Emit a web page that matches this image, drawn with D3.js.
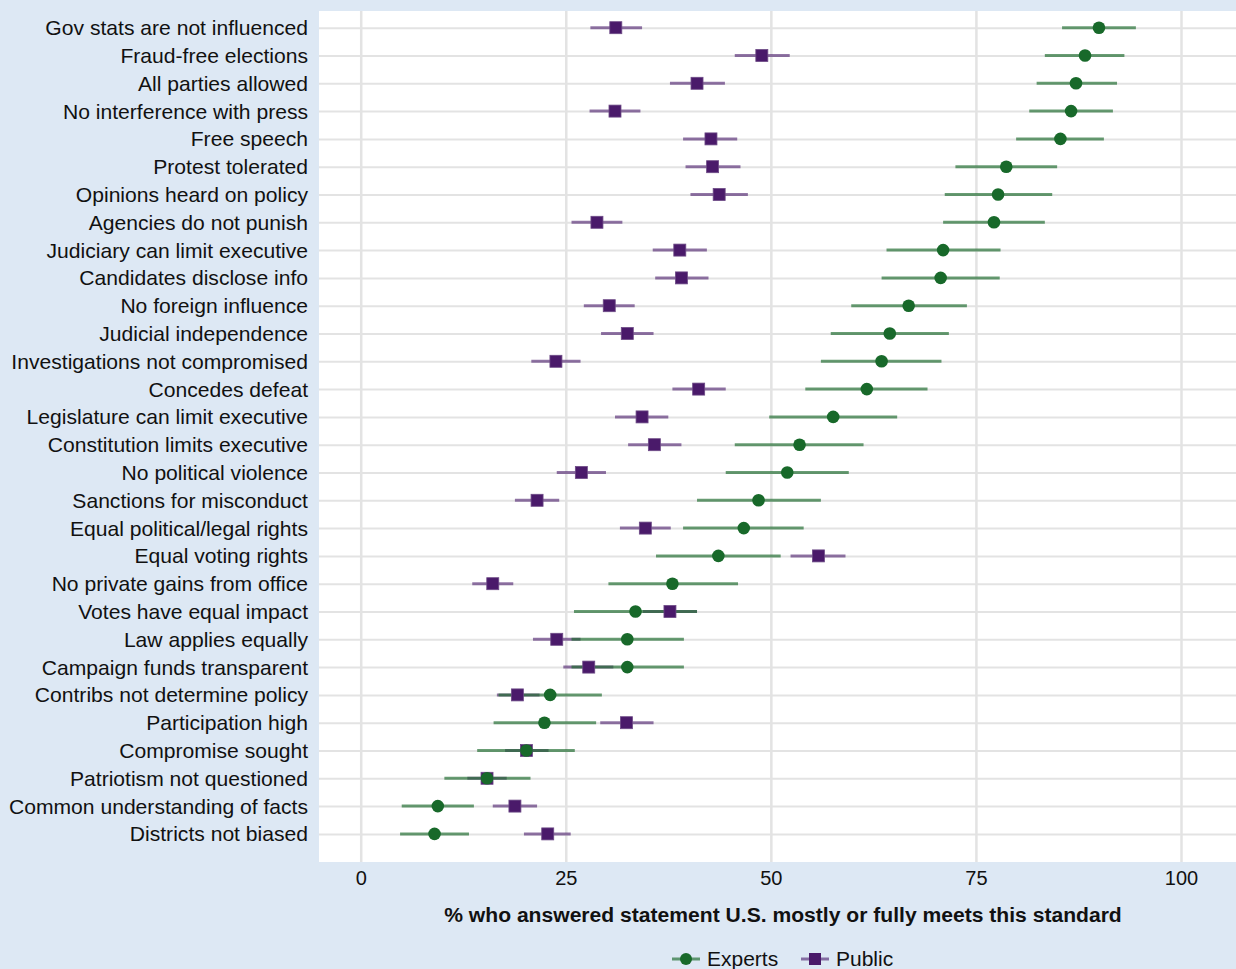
<!DOCTYPE html>
<html>
<head>
<meta charset="utf-8">
<script src="https://cdn.jsdelivr.net/npm/d3@7"></script>
<style>
  body { margin: 0; background: #dde8f4; }
  text { font-family: "Liberation Sans", Helvetica, Arial, sans-serif; fill: #111; }
</style>
</head>
<body>
<div id="chart"></div>
<script>
// Statements, top to bottom
var categories = [
  "Gov stats are not influenced", "Fraud-free elections", "All parties allowed",
  "No interference with press", "Free speech", "Protest tolerated",
  "Opinions heard on policy", "Agencies do not punish", "Judiciary can limit executive",
  "Candidates disclose info", "No foreign influence", "Judicial independence",
  "Investigations not compromised", "Concedes defeat", "Legislature can limit executive",
  "Constitution limits executive", "No political violence", "Sanctions for misconduct",
  "Equal political/legal rights", "Equal voting rights", "No private gains from office",
  "Votes have equal impact", "Law applies equally", "Campaign funds transparent",
  "Contribs not determine policy", "Participation high", "Compromise sought",
  "Patriotism not questioned", "Common understanding of facts", "Districts not biased"
];

// Experts: estimate and interval
var expertsEst = [90.0, 88.3, 87.2, 86.6, 85.3, 78.7, 77.7, 77.2, 71.0, 70.7, 66.8, 64.5, 63.5, 61.7, 57.6,
  53.5, 52.0, 48.5, 46.7, 43.6, 38.0, 33.5, 32.5, 32.5, 23.1, 22.4, 20.2, 15.4, 9.4, 9.0];
var expertsLo = [85.5, 83.4, 82.4, 81.5, 79.9, 72.5, 71.2, 71.0, 64.1, 63.5, 59.8, 57.3, 56.1, 54.2, 49.8,
  45.6, 44.5, 41.0, 39.3, 36.0, 30.2, 26.0, 25.7, 25.7, 16.8, 16.2, 14.2, 10.2, 5.0, 4.8];
var expertsHi = [94.5, 93.1, 92.2, 91.7, 90.6, 84.9, 84.3, 83.4, 78.0, 77.9, 73.9, 71.7, 70.8, 69.1, 65.4,
  61.3, 59.5, 56.1, 54.0, 51.2, 46.0, 41.0, 39.4, 39.4, 29.4, 28.7, 26.1, 20.7, 13.8, 13.2];

// Public: estimate and interval
var publicEst = [31.1, 48.9, 41.0, 31.0, 42.7, 42.9, 43.7, 28.8, 38.9, 39.1, 30.3, 32.5, 23.8, 41.2, 34.3,
  35.8, 26.9, 21.5, 34.7, 55.8, 16.1, 37.7, 23.9, 27.8, 19.1, 32.4, 20.2, 15.4, 18.8, 22.8];
var publicLo = [28.0, 45.6, 37.7, 27.9, 39.3, 39.6, 40.2, 25.7, 35.6, 35.9, 27.2, 29.3, 20.8, 38.0, 31.0,
  32.6, 23.9, 18.8, 31.6, 52.4, 13.6, 34.4, 21.0, 24.7, 16.6, 29.2, 17.6, 13.0, 16.1, 19.9];
var publicHi = [34.3, 52.3, 44.4, 34.1, 45.9, 46.3, 47.2, 31.9, 42.2, 42.4, 33.4, 35.7, 26.8, 44.5, 37.5,
  39.1, 29.9, 24.2, 37.8, 59.1, 18.6, 41.0, 26.8, 30.8, 21.8, 35.7, 22.9, 17.8, 21.5, 25.6];

var xTicks = [0, 25, 50, 75, 100];

var svgWidth = 1236;
var svgHeight = 969;

// plot panel (white area)
var panel = { left: 319, top: 11, right: 1236, bottom: 862 };

var svg = d3.select("#chart")
  .append("svg")
  .attr("width", svgWidth)
  .attr("height", svgHeight);

svg.append("rect")
  .attr("width", svgWidth).attr("height", svgHeight)
  .attr("fill", "#dde8f4");

svg.append("rect")
  .attr("x", panel.left).attr("y", panel.top)
  .attr("width", panel.right - panel.left)
  .attr("height", panel.bottom - panel.top)
  .attr("fill", "#fff");

var x = d3.scaleLinear().domain([0, 100]).range([360.7, 1181]);
var y = d3.scalePoint().domain(categories).range([27.7, 833.9]);

// rows as objects
var rows = categories.map(function(c, i) {
  return {
    cat: c,
    e: expertsEst[i], eLo: expertsLo[i], eHi: expertsHi[i],
    p: publicEst[i], pLo: publicLo[i], pHi: publicHi[i]
  };
});

// Grid lines
var hGrid = svg.append("g")
  .attr("transform", `translate(${panel.left},0)`)
  .call(d3.axisLeft(y).tickSize(-(panel.right - panel.left)).tickFormat(""));
hGrid.select(".domain").remove();
hGrid.selectAll("line").attr("stroke", "#e3e3e3").attr("stroke-width", 2);

var vGrid = svg.append("g")
  .attr("transform", `translate(0,${panel.bottom})`)
  .call(d3.axisBottom(x).tickValues(xTicks).tickSize(-(panel.bottom - panel.top)).tickFormat(""));
vGrid.select(".domain").remove();
vGrid.selectAll("line").attr("stroke", "#e3e3e3").attr("stroke-width", 2.5);

// Category labels
var yAxis = svg.append("g")
  .attr("transform", `translate(${panel.left},0)`)
  .call(d3.axisLeft(y).tickSize(0).tickPadding(11));
yAxis.select(".domain").remove();
yAxis.selectAll("text")
  .style("font-size", "21.1px")
  .attr("fill", "#111")
  .attr("dy", "0.33em");

// x axis labels
var xAxis = svg.append("g")
  .attr("transform", `translate(0,${panel.bottom})`)
  .call(d3.axisBottom(x).tickValues(xTicks).tickSize(0).tickPadding(9));
xAxis.select(".domain").remove();
xAxis.selectAll("text")
  .style("font-size", "20px")
  .attr("fill", "#111");

svg.append("text")
  .attr("x", 783)
  .attr("y", 922)
  .attr("text-anchor", "middle")
  .style("font-size", "21.1px")
  .style("font-weight", "bold")
  .text("% who answered statement U.S. mostly or fully meets this standard");

var greenDot = "#18692a";
var purpleSq = "#4a1a6a";

// Interval lines
var ciGroup = svg.append("g");
ciGroup.selectAll(".ci-p")
  .data(rows)
  .enter()
  .append("line")
  .attr("class", "ci-p")
  .attr("x1", d => x(d.pLo))
  .attr("x2", d => x(d.pHi))
  .attr("y1", d => y(d.cat))
  .attr("y2", d => y(d.cat))
  .attr("stroke", purpleSq)
  .attr("stroke-opacity", 0.6)
  .attr("stroke-width", 3);

ciGroup.selectAll(".ci-e")
  .data(rows)
  .enter()
  .append("line")
  .attr("class", "ci-e")
  .attr("x1", d => x(d.eLo))
  .attr("x2", d => x(d.eHi))
  .attr("y1", d => y(d.cat))
  .attr("y2", d => y(d.cat))
  .attr("stroke", greenDot)
  .attr("stroke-opacity", 0.65)
  .attr("stroke-width", 3);

// Public squares
var sq = 12;
svg.append("g").selectAll("rect")
  .data(rows)
  .enter()
  .append("rect")
  .attr("x", d => x(d.p) - sq / 2)
  .attr("y", d => y(d.cat) - sq / 2)
  .attr("width", sq)
  .attr("height", sq)
  .attr("fill", purpleSq)
  .attr("stroke", "#6d4a86")
  .attr("stroke-width", 0.8);

// Expert dots
svg.append("g").selectAll("circle")
  .data(rows)
  .enter()
  .append("circle")
  .attr("cx", d => x(d.e))
  .attr("cy", d => y(d.cat))
  .attr("r", 6.3)
  .attr("fill", greenDot);

// Legend
var legend = svg.append("g").attr("transform", "translate(0,959)");
var legendItems = [
  { name: "Experts", x0: 672, color: greenDot, shape: "circle" },
  { name: "Public", x0: 801, color: purpleSq, shape: "square" }
];
legendItems.forEach(function(it) {
  legend.append("line")
    .attr("x1", it.x0).attr("x2", it.x0 + 28)
    .attr("y1", 0).attr("y2", 0)
    .attr("stroke", it.color)
    .attr("stroke-opacity", it.shape == "circle" ? 0.65 : 0.6)
    .attr("stroke-width", 3);
  if (it.shape == "circle") {
    legend.append("circle")
      .attr("cx", it.x0 + 14).attr("cy", 0).attr("r", 6)
      .attr("fill", it.color);
  } else {
    legend.append("rect")
      .attr("x", it.x0 + 14 - sq / 2).attr("y", -sq / 2)
      .attr("width", sq).attr("height", sq)
      .attr("fill", it.color);
  }
  legend.append("text")
    .attr("x", it.x0 + 35)
    .attr("y", 0)
    .attr("dy", "0.35em")
    .style("font-size", "21px")
    .text(it.name);
});
</script>
</body>
</html>
